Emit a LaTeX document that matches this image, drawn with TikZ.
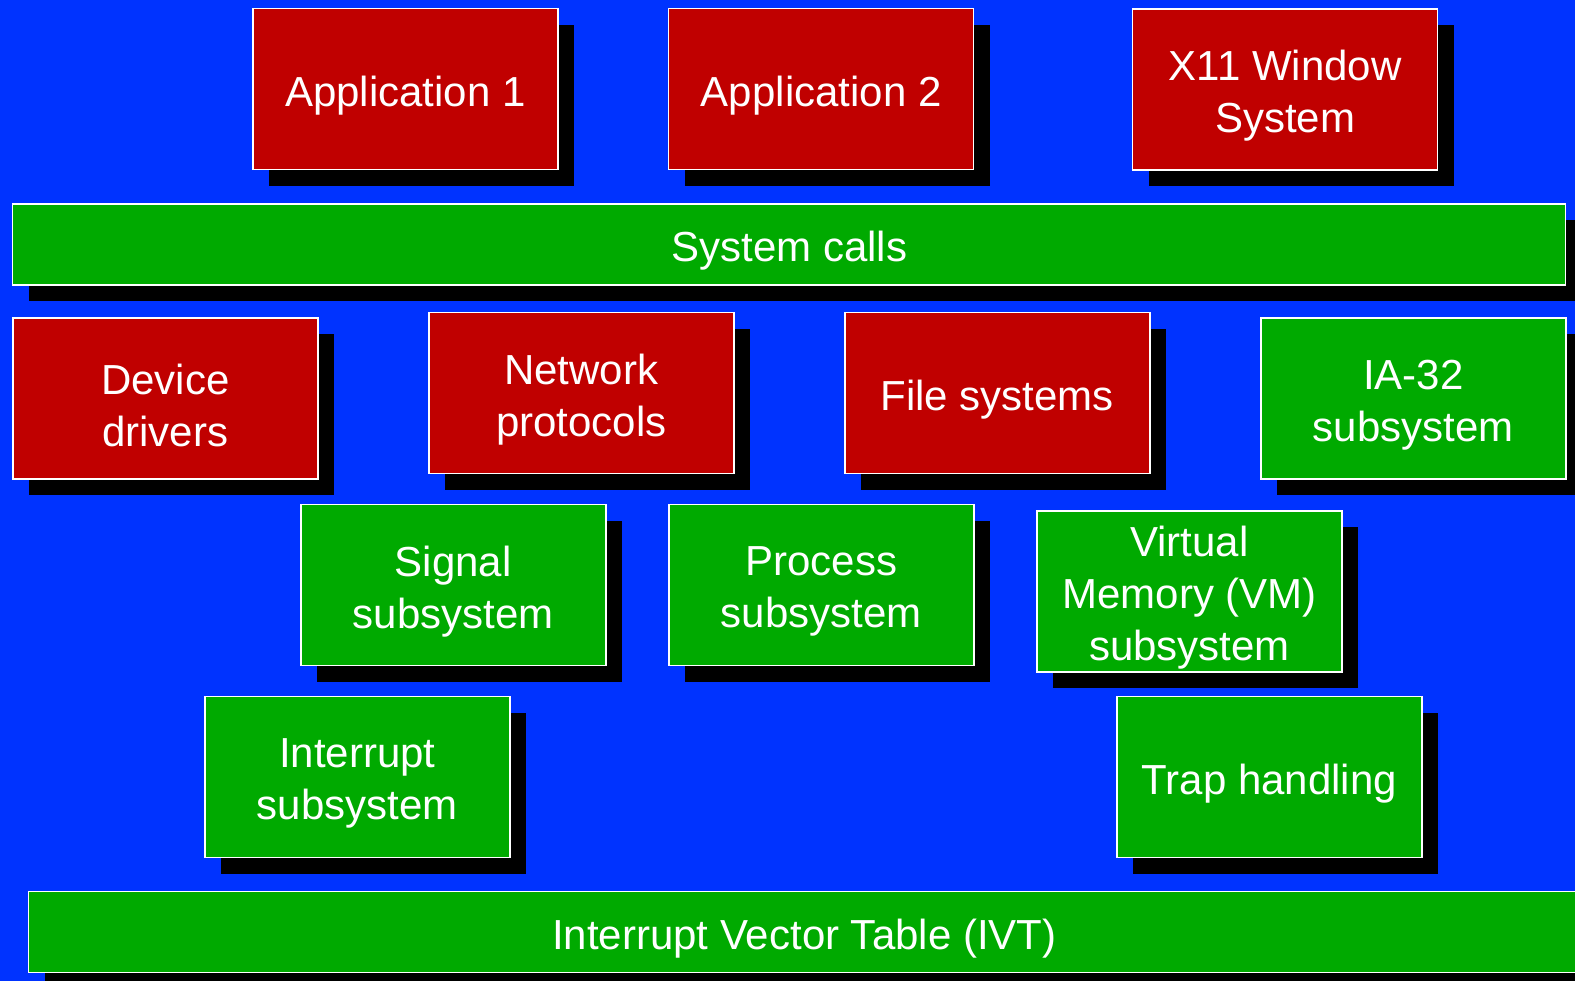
\documentclass[tikz,border=0pt]{standalone}
\usepackage{fontspec}
\setmainfont{Liberation Sans}
\usetikzlibrary{shadows}
\definecolor{bgblue}{RGB}{0,51,255}
\definecolor{layerred}{RGB}{192,0,0}
\definecolor{layergreen}{RGB}{0,170,0}
\tikzset{
  layer/.style={draw=white, line width=1.5pt, inner sep=0pt,
    drop shadow={shadow xshift=16pt, shadow yshift=-16pt, opacity=1, fill=black}},
  blk/.style={layer, minimum width=305pt, minimum height=161pt},
  redblk/.style={blk, fill=layerred},
  greenblk/.style={blk, fill=layergreen},
  bar/.style={layer, fill=layergreen, minimum height=81pt},
  caption/.style={text=white, align=center, inner sep=0pt, yshift=-6.5pt,
    font=\fontsize{42}{52}\selectfont}
}
\begin{document}
\begin{tikzpicture}[x=1pt, y=-1pt]
  % page and background
  \fill[bgblue] (0,0) rectangle (1575,981);
  \useasboundingbox (0,0) rectangle (1575,981);
  \begin{scope}
    \clip (0,0) rectangle (1575,981);
    % user level
    \node[redblk] (app1) at (405.3,89.2) {};
    \node[redblk] (app2) at (821.2,89.2) {};
    \node[redblk] (x11) at (1285.2,89.3) {};
    % system call interface
    \node[bar, minimum width=1553pt] (sys) at (789.2,244.5) {};
    % kernel services
    \node[redblk] (dev) at (165.3,398.5) {};
    \node[redblk] (net) at (581.3,393.2) {};
    \node[redblk] (fs) at (997.3,393.2) {};
    \node[greenblk] (ia32) at (1413.3,398.5) {};
    \node[greenblk] (sig) at (453.3,585.2) {};
    \node[greenblk] (proc) at (821.3,585.2) {};
    \node[greenblk] (vm) at (1189.5,591.3) {};
    \node[greenblk] (intr) at (357.3,777.2) {};
    \node[greenblk] (trap) at (1269.3,777.2) {};
    % hardware interface
    \node[bar, minimum width=1551.4pt] (ivt) at (804.3,932.2) {};

    % captions
    \node[caption] (app1-t) at (app1) {Application 1};
    \node[caption] (app2-t) at (app2) {Application 2};
    \node[caption] (x11-t) at (x11) {X11 Window\\System};
    \node[caption] (sys-t) at (sys) {System calls};
    \node[caption] (dev-t) at (dev) {Device\\drivers};
    \node[caption] (net-t) at (net) {Network\\protocols};
    \node[caption] (fs-t) at (fs) {File systems};
    \node[caption] (ia32-t) at (ia32) {IA-32\\subsystem};
    \node[caption] (sig-t) at (sig) {Signal\\subsystem};
    \node[caption] (proc-t) at (proc) {Process\\subsystem};
    \node[caption] (vm-t) at (vm) {Virtual\\Memory (VM)\\subsystem};
    \node[caption] (intr-t) at (intr) {Interrupt\\subsystem};
    \node[caption] (trap-t) at (trap) {Trap handling};
    \node[caption] (ivt-t) at (ivt) {Interrupt Vector Table (IVT)};
  \end{scope}
\end{tikzpicture}
\end{document}
